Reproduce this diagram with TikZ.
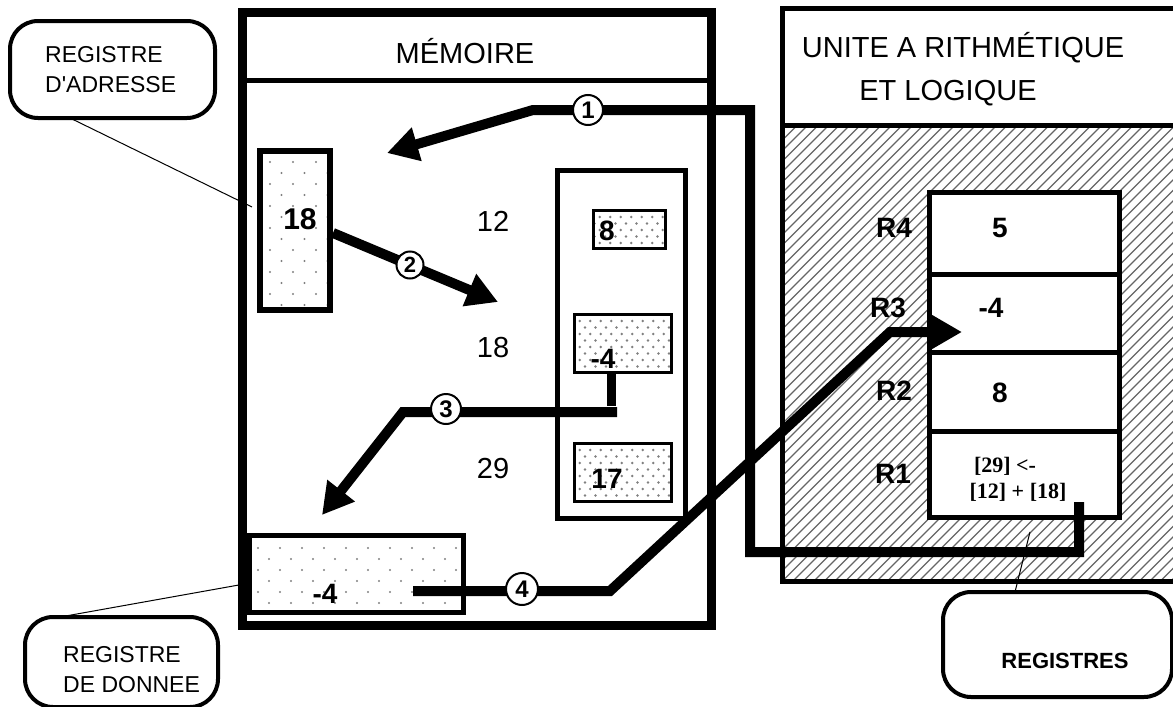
\documentclass[tikz,border=0pt]{standalone}
\usepackage{fontspec}
\setmainfont{Liberation Sans}
\newfontfamily\timesf{Liberation Serif}
\usetikzlibrary{arrows.meta}

% dot grid clipped to a rectangle: x1 y1 x2 y2 dx dy radius
\newcommand\mydotgrid[7]{%
  \begin{scope}
    \clip (#1,#2) rectangle (#3,#4);
    \pgfmathtruncatemacro\myrows{(#4-#2)/#6+1}%
    \pgfmathtruncatemacro\mycols{(#3-#1)/#5+1}%
    \foreach \r in {0,...,\myrows}{%
      \foreach \c in {-1,...,\mycols}{%
        \fill[dotcol] ({#1+\c*#5+mod(\r,2)*#5/2},{#2+\r*#6}) circle (#7);
      }%
    }%
  \end{scope}%
}

\begin{document}
\begin{tikzpicture}[x=1pt,y=-1pt,
  frame/.style={draw, inner sep=0pt, outer sep=0pt},
  lab/.style={inner sep=0pt, font=\fontsize{29pt}{34pt}\selectfont},
  blab/.style={inner sep=0pt, font=\fontsize{28pt}{34pt}\selectfont\bfseries},
  clab/.style={inner sep=0pt, align=left, font=\fontsize{23pt}{30pt}\selectfont},
  rtxt/.style={inner sep=0pt, font=\fontsize{22pt}{26pt}\selectfont\timesf\bfseries},
  callout/.style={draw, line width=4pt, rounded corners=28pt, inner sep=0pt, outer sep=0pt},
  num/.style={draw, circle, line width=2pt, fill=white, minimum size=30pt, inner sep=0pt,
              font=\fontsize{24pt}{24pt}\selectfont\bfseries},
  arr/.style={line width=10pt, -{Triangle[length=31pt,width=33pt]}},
  thick9/.style={line width=9pt},
  pointer/.style={line width=1pt},
  hatch/.style={line width=1.3pt, black!60},
  dotcol/.style={black!50}
]
\clip (0,0) rectangle (1173,707);

% ---------- ALU ----------
\node[frame, line width=5pt, minimum width=418pt, minimum height=573pt] (alu) at (991,294.5) {};
\begin{scope}
  \clip (alu.west |- 0,125) rectangle (alu.south east);
  \foreach \i in {0,...,82} \draw[hatch] ({329+10.5*\i},583) -- ++(460,-460);
\end{scope}
\draw[line width=5pt] (alu.north west) rectangle (alu.south east);
\draw[line width=5pt] (alu.west |- 0,125) -- (alu.east |- 0,125);
\node[lab, anchor=base] (alut1) at (963,57) {UNITE A RITHMÉTIQUE};
\node[lab, anchor=base] (alut2) at (948,100) {ET LOGIQUE};

% registers
\node[frame, fill=white, line width=5pt, minimum width=190pt, minimum height=82pt] (r4) at (1024,233) {};
\node[frame, fill=white, line width=5pt, minimum width=190pt, minimum height=78pt] (r3) at (1024,313) {};
\node[frame, fill=white, line width=5pt, minimum width=190pt, minimum height=79pt] (r2) at (1024,391.5) {};
\node[frame, fill=white, line width=5pt, minimum width=190pt, minimum height=86pt] (r1) at (1024,474) {};
\node[blab, anchor=base] (l4) at (894,237) {R4};
\node[blab, anchor=base] (l3) at (888,317) {R3};
\node[blab, anchor=base] (l2) at (894,400) {R2};
\node[blab, anchor=base] (l1) at (893,483) {R1};
\node[blab, anchor=base] (v4) at (1000,237) {5};
\node[blab, anchor=base] (v3) at (991,317) {-4};
\node[blab, anchor=base] (v2) at (1000,402) {8};
\node[rtxt, anchor=base] (v1a) at (1005,472) {[29] <-};
\node[rtxt, anchor=base] (v1b) at (1018,498) {[12] + [18]};

% ---------- MEMOIRE ----------
\node[frame, line width=9pt, minimum width=469pt, minimum height=613pt] (mem) at (476.5,318.5) {};
\draw[line width=5pt] (mem.west |- 0,80) -- (mem.east |- 0,80);
\node[lab, anchor=base] (memt) at (465,63) {MÉMOIRE};

\node[frame, line width=5pt, minimum width=128pt, minimum height=348pt] (col) at (621,344) {};

% dotted fills
\mydotgrid{594.5}{210.5}{663.5}{247.5}{10.5}{6.5}{1.3}
\mydotgrid{574.5}{314.5}{670.5}{371.5}{10.5}{6.5}{1.3}
\mydotgrid{574.5}{443.5}{670.5}{500.5}{10.5}{6.5}{1.3}
\mydotgrid{258.5}{151}{327}{307}{23}{11}{1.2}
\mydotgrid{247}{537}{460.5}{609.5}{22}{11}{1.2}

\node[frame, line width=3pt, minimum width=72pt, minimum height=38pt] (c8) at (629,229) {};
\node[frame, line width=3pt, minimum width=97pt, minimum height=58pt] (cm4) at (622.5,343) {};
\node[frame, line width=3pt, minimum width=97pt, minimum height=58pt] (c17) at (622.5,472) {};
\node[blab, anchor=base] (t8) at (607,240) {8};
\node[blab, anchor=base] (tm4) at (603,368) {-4};
\node[blab, anchor=base] (t17) at (607,488) {17};

\node[lab, anchor=base] (a12) at (493,231) {12};
\node[lab, anchor=base] (a18) at (493,357) {18};
\node[lab, anchor=base] (a29) at (493,478) {29};

\node[frame, line width=6pt, minimum width=70pt, minimum height=159pt] (addr) at (295,230.5) {};
\node[blab, anchor=base, font=\fontsize{30pt}{34pt}\selectfont\bfseries] (t18) at (300,229) {18};
\node[frame, line width=5pt, minimum width=214pt, minimum height=77pt] (data) at (356,573.5) {};
\node[blab, anchor=base] (tdata) at (325,603) {-4};

% ---------- connectors ----------
% 1 : R1 -> memory address
\coordinate (a1s) at (1079,502);
\coordinate (a1b) at (1079,552);
\coordinate (a1c) at (750,552);
\coordinate (a1d) at (750,110);
\coordinate (a1e) at (533,110);
\coordinate (a1t) at (387,153);
\draw[arr] (a1s) -- (a1b) -- (a1c) -- (a1d) -- (a1e) -- (a1t);
\node[num] (n1) at (588,110) {1};

% 2 : address register -> memory
\coordinate (a2s) at (333,233);
\coordinate (a2t) at (498,302);
\draw[arr] (a2s) -- (a2t);
\node[num, minimum size=27pt, font=\fontsize{22pt}{22pt}\selectfont\bfseries] (n2) at (410,265) {2};

% 3 : memory cell -> data register
\coordinate (a3s) at (611,373);
\coordinate (a3b) at (611,406);
\coordinate (a3c) at (617,412);
\coordinate (a3d) at (403,412);
\coordinate (a3t) at (322,515);
\draw[thick9] (a3s) -- (a3b);
\draw[arr] (a3c) -- (a3d) -- (a3t);
\node[num] (n3) at (446,409) {3};

% 4 : data register -> R3
\coordinate (a4s) at (413,591);
\coordinate (a4b) at (610,591);
\coordinate (a4c) at (890,332);
\coordinate (a4t) at (962,332);
\draw[arr] (a4s) -- (a4b) -- (a4c) -- (a4t);
\node[num, minimum size=32pt] (n4) at (522,589) {4};

% ---------- callouts ----------
\node[callout, minimum width=205pt, minimum height=97pt] (cadr) at (112.5,69.5) {};
\node[clab, anchor=base west] (cadr1) at (45,62) {REGISTRE};
\node[clab, anchor=base west] (cadr2) at (45,92) {D\textquotesingle ADRESSE};
\coordinate (padr) at (252,207);
\draw[pointer] (cadr.south -| 70,0) -- (padr);

\node[callout, minimum width=193pt, minimum height=90pt] (cdon) at (121.5,662) {};
\node[clab, anchor=base west] (cdon1) at (63,662) {REGISTRE};
\node[clab, anchor=base west] (cdon2) at (63,692) {DE DONNEE};
\coordinate (pdon) at (250,583);
\draw[pointer] (cdon.north -| 60,0) -- (pdon);

\node[callout, minimum width=229pt, minimum height=105pt] (creg) at (1057.5,644.5) {};
\node[inner sep=0pt, anchor=base, font=\fontsize{22pt}{26pt}\selectfont\bfseries] (creg1) at (1065,668) {REGISTRES};
\coordinate (preg) at (1030,532);
\draw[pointer] (creg.north -| 1015,0) -- (preg);
\end{tikzpicture}
\end{document}
